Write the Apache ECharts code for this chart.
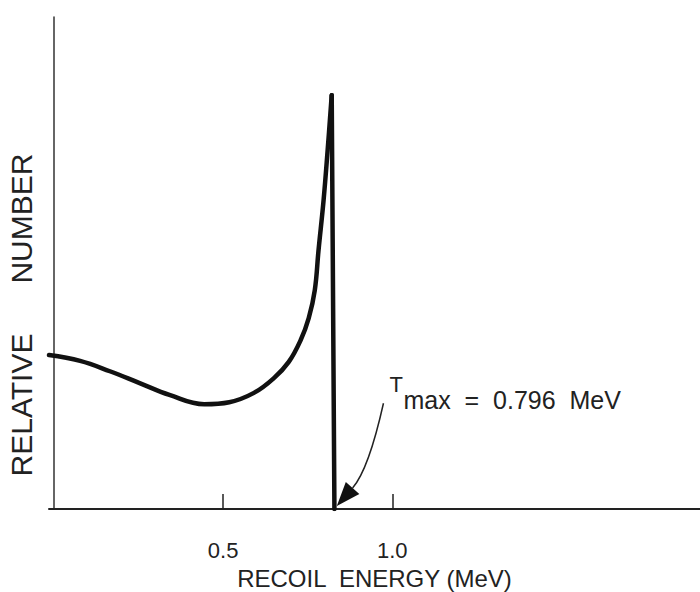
<!DOCTYPE html>
<html>
<head>
<meta charset="utf-8">
<script src="https://cdn.jsdelivr.net/npm/echarts@6/dist/echarts.min.js"></script>
<style>
  html, body { margin: 0; padding: 0; background: #fff; }
  #chart { width: 700px; height: 592px; }
</style>
</head>
<body>
<div id="chart"></div>
<script>
// recoil energy (MeV) and relative number
const energy = [-0.015, 0.077, 0.165, 0.253, 0.341, 0.444, 0.518, 0.591, 0.65, 0.694, 0.729, 0.753, 0.771, 0.782, 0.797, 0.809, 0.821, 0.829];
const relative = [31.3, 30.1, 28.0, 25.6, 23.2, 21.3, 21.7, 23.6, 26.6, 29.9, 34.3, 38.8, 44.5, 52.6, 62.8, 73.0, 84.1, 0];
const tickValues = [0.5, 1.0];
const tickLabels = ['0.5', '1.0'];

// annotation arrow: start, bend, tip (data units)
const arrowPts = [[0.974, 21.5], [0.93, 8.0], [0.836, 0.6]];

const curve = energy.slice(0, -1).map((e, i) => [e, relative[i]]);
const drop = energy.slice(-2).map((e, i) => [e, relative[relative.length - 2 + i]]);

const chart = echarts.init(document.getElementById('chart'), null, { renderer: 'svg' });
const font = 'Liberation Sans, Arial, sans-serif';

chart.setOption({
  animation: false,
  grid: { left: 49, top: 17, right: 0, bottom: 83, outerBoundsMode: 'none', containLabel: false },
  xAxis: {
    type: 'value', min: -0.015, max: 1.91,
    splitLine: { show: false },
    axisLine: { lineStyle: { color: '#222', width: 2 } },
    axisTick: { inside: true, length: 15, customValues: tickValues, lineStyle: { color: '#222', width: 1.5 } },
    axisLabel: {
      customValues: tickValues, margin: 30,
      formatter: v => tickLabels[tickValues.indexOf(v)] || '',
      color: '#222', fontSize: 22, fontFamily: font
    },
    name: 'RECOIL  ENERGY (MeV)', nameLocation: 'middle', nameGap: 57, nameMoveOverlap: false,
    nameTextStyle: { color: '#222', fontSize: 24, fontFamily: font }
  },
  yAxis: {
    type: 'value', min: 0, max: 100,
    splitLine: { show: false },
    axisLine: { show: true, lineStyle: { color: '#333', width: 1.5 } },
    axisTick: { show: false },
    axisLabel: { show: false }
  },
  series: [
    {
      type: 'line', data: curve, smooth: 0.4, symbol: 'none',
      lineStyle: { color: '#111', width: 4.5, cap: 'round', join: 'round' }
    },
    {
      type: 'line', data: drop, symbol: 'none',
      lineStyle: { color: '#111', width: 4.5, cap: 'round', join: 'round' }
    }
  ]
});

function drawArrow() {
  const p = arrowPts.map(d => chart.convertToPixel({ gridIndex: 0 }, d));
  const [s, c, t] = p;
  // direction at the tip
  const dx = t[0] - c[0], dy = t[1] - c[1];
  const len = Math.hypot(dx, dy);
  const ux = dx / len, uy = dy / len;
  const hl = 24, hw = 9;
  const bx = t[0] - ux * hl, by = t[1] - uy * hl;
  chart.setOption({
    graphic: [
      {
        type: 'text', x: 21, y: 315, rotation: Math.PI / 2,
        style: {
          text: 'RELATIVE      NUMBER', fontSize: 30, fontFamily: font, fill: '#222',
          align: 'center', verticalAlign: 'middle'
        }
      },
      {
        type: 'bezierCurve',
        shape: { x1: s[0], y1: s[1], cpx1: c[0], cpy1: c[1], x2: bx, y2: by },
        style: { stroke: '#222', lineWidth: 1.5, fill: null }
      },
      {
        type: 'polygon',
        shape: { points: [[t[0], t[1]], [bx - uy * hw, by + ux * hw], [bx + uy * hw, by - ux * hw]] },
        style: { fill: '#111' }
      },
      {
        type: 'text', left: s[0] + 6, top: s[1] - 30,
        style: { text: 'T', fontSize: 22, fontFamily: font, fill: '#222' }
      },
      {
        type: 'text', left: s[0] + 20, top: s[1] - 16,
        style: { text: 'max  =  0.796  MeV', fontSize: 25, fontFamily: font, fill: '#222' }
      }
    ]
  });
}
drawArrow();
</script>
</body>
</html>
